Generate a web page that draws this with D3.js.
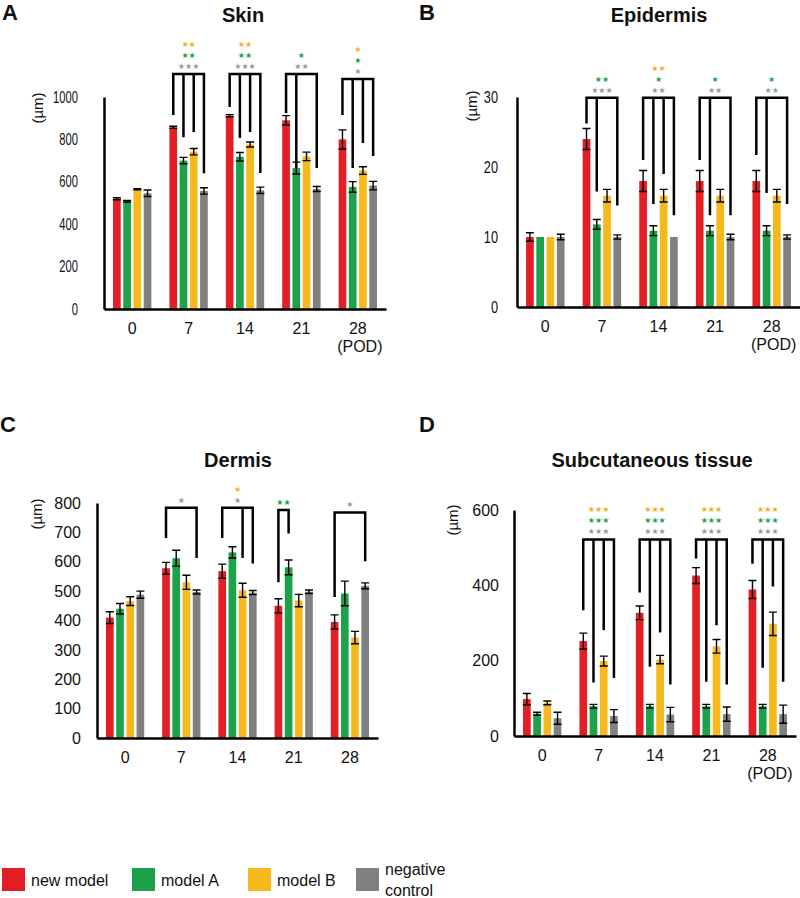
<!DOCTYPE html>
<html>
<head>
<meta charset="utf-8">
<script src="https://cdn.jsdelivr.net/npm/d3@7"></script>
<style>
  body { margin: 0; background: #fff; }
  text { font-family: "Liberation Sans", Arial, sans-serif; fill: #111; }
  .axis path { stroke: #000; stroke-width: 2.5; }
  .axis text { font-size: 16px; fill: #111; }
  .star { font-family: "DejaVu Sans", sans-serif; font-size: 8px; }
</style>
</head>
<body>
<script>
/////////////
/// DATA  ///
/////////////

var days = ["0", "7", "14", "21", "28"];
var series = ["new model", "model A", "model B", "negative control"];
var colors = ["#e41e25", "#1ba24a", "#f6b91c", "#808080"];
// star colours: model B, model A, negative control (all vs new model)
var starColors = ["#f2b01a", "#1ba24a", "#9a9a9a"];

// rows: new model, model A, model B, negative control
var skinMean = [
  [520, 857, 912, 890, 800],
  [508, 700, 718, 665, 576],
  [565, 742, 776, 720, 653],
  [546, 557, 560, 566, 582]
];
var skinErr = [
  [5, 5, 5, 22, 45],
  [4, 15, 20, 28, 25],
  [3, 15, 12, 20, 18],
  [15, 15, 15, 12, 20]
];

var epiMean = [
  [10, 24, 18, 18, 18],
  [10, 11.8, 10.9, 10.9, 10.9],
  [10, 15.9, 15.9, 15.9, 15.9],
  [10, 10, 10, 10, 10]
];
var epiErr = [
  [0.6, 1.5, 1.5, 1.5, 1.5],
  [0, 0.7, 0.7, 0.7, 0.7],
  [0, 0.9, 0.9, 0.9, 0.9],
  [0.4, 0.3, 0, 0.4, 0.3]
];

var dermMean = [
  [410, 578, 568, 450, 395],
  [440, 612, 632, 581, 492],
  [466, 530, 503, 468, 342],
  [488, 497, 495, 498, 518]
];
var dermErr = [
  [20, 20, 24, 24, 24],
  [18, 27, 19, 25, 42],
  [15, 24, 24, 21, 21],
  [12, 7, 7, 6, 10]
];

var subMean = [
  [98, 252, 327, 426, 389],
  [59, 79, 79, 79, 79],
  [88, 199, 203, 238, 298],
  [47, 53, 57, 58, 58]
];
var subErr = [
  [15, 21, 18, 21, 24],
  [4, 5, 5, 5, 5],
  [5, 13, 11, 18, 31],
  [16, 17, 19, 19, 24]
];

// significance brackets (values in µm)
// ends: where each drop line stops, per series (null = not compared)
// stars: [model B, model A, negative control]
var skinBrackets = [
  {day: "7",  top: 1108, ends: [915, 810, 835, 640], stars: ["**", "**", "***"]},
  {day: "14", top: 1108, ends: [953, 807, 835, 642], stars: ["**", "**", "***"]},
  {day: "21", top: 1108, ends: [925, 665, null, 665], stars: ["", "*", "**"]},
  {day: "28", top: 1085, ends: [915, 665, 783, 722], stars: ["*", "*", "*"]}
];
var epiBrackets = [
  {day: "7",  top: 29.9, ends: [26.2, 16.5, null, 14.5], stars: ["", "**", "***"]},
  {day: "14", top: 29.9, ends: [21, 14.7, 19, 13.1], stars: ["**", "*", "**"]},
  {day: "21", top: 29.9, ends: [21, 13.1, null, 13.1], stars: ["", "*", "**"]},
  {day: "28", top: 29.9, ends: [21.7, 16.3, null, 14.7], stars: ["", "*", "**"]}
];
var dermBrackets = [
  {day: "7",  top: 784, ends: [681, null, null, 613], stars: ["", "", "*"]},
  {day: "14", top: 784, ends: [681, null, 613, 594], stars: ["*", "", "*"]},
  {day: "21", top: 776, ends: [530, 696, null, null], stars: ["", "**", ""]},
  {day: "28", top: 768, ends: [480, null, null, 602], stars: ["", "", "*"]}
];
var subBrackets = [
  {day: "7",  top: 522, ends: [334, 142, 281, 154], stars: ["***", "***", "***"]},
  {day: "14", top: 522, ends: [381, 184, 275, 137], stars: ["***", "***", "***"]},
  {day: "21", top: 522, ends: [471, 144, 294, 137], stars: ["***", "***", "***"]},
  {day: "28", top: 522, ends: [457, 181, 397, 144], stars: ["***", "***", "***"]}
];

var skinTicks = [0, 200, 400, 600, 800, 1000];
var epiTicks = [0, 10, 20, 30];
var dermTicks = [0, 100, 200, 300, 400, 500, 600, 700, 800];
var subTicks = [0, 200, 400, 600];

//////////////
/// SETUP  ///
//////////////

var svg = d3.select("body").append("svg")
    .attr("width", 800)
    .attr("height", 898);

function drawPanel(p) {
  var g = svg.append("g");

  var x0 = d3.scaleBand().domain(days)
      .range([p.left, p.right])
      .paddingInner(0.32).paddingOuter(0.16);
  var x1 = d3.scaleBand().domain(d3.range(series.length))
      .range([0, x0.bandwidth()])
      .paddingInner(0.25);
  var y = d3.scaleLinear().domain([0, p.max]).range([p.bottom, p.top]);

  // panel letter + title
  g.append("text")
      .attr("x", p.letterX).attr("y", p.letterY)
      .style("font-size", "22px").style("font-weight", "bold")
      .text(p.letter);
  g.append("text")
      .attr("x", p.titleX).attr("y", p.titleY)
      .attr("text-anchor", "middle")
      .style("font-size", "20px").style("font-weight", "bold")
      .text(p.title);

  // bars
  var rows = [];
  series.forEach(function(s, i) {
    days.forEach(function(d, j) {
      rows.push({day: d, s: i, v: p.mean[i][j], e: p.err[i][j]});
    });
  });

  g.selectAll(".bar").data(rows).enter()
      .append("rect")
      .attr("class", "bar")
      .attr("x", function(d) { return x0(d.day) + x1(d.s); })
      .attr("y", function(d) { return y(d.v); })
      .attr("width", x1.bandwidth())
      .attr("height", function(d) { return y(0) - y(d.v); })
      .attr("fill", function(d) { return colors[d.s]; });

  // error bars
  g.selectAll(".err").data(rows.filter(function(d) { return d.e > 0; }))
      .enter().append("path")
      .attr("class", "err")
      .attr("fill", "none")
      .attr("stroke", "#000")
      .attr("stroke-width", 1.4)
      .attr("d", function(d) {
        var cx = x0(d.day) + x1(d.s) + x1.bandwidth() / 2;
        var y1 = y(d.v + d.e), y2 = y(d.v - d.e);
        return "M" + (cx - 4) + "," + y1 + "H" + (cx + 4) +
               "M" + cx + "," + y1 + "V" + y2 +
               "M" + (cx - 4) + "," + y2 + "H" + (cx + 4);
      });

  // axes
  var yAxis = g.append("g")
      .attr("class", "axis")
      .attr("transform", "translate(" + p.left + ",0)")
      .call(d3.axisLeft(y).tickValues(p.ticks).tickFormat(d3.format("d"))
        .tickSize(0).tickSizeOuter(0)
        .tickPadding(p.tickGap / p.tickScale));
  yAxis.selectAll("text").attr("transform", "scale(" + p.tickScale + ",1)");

  g.append("g")
      .attr("class", "axis")
      .attr("transform", "translate(0," + p.bottom + ")")
      .call(d3.axisBottom(x0).tickSize(0).tickSizeOuter(0).tickPadding(14));

  if (p.pod) {
    g.append("text")
        .attr("x", x0("28") + x0.bandwidth() / 2 + 2)
        .attr("y", p.bottom + 43)
        .attr("text-anchor", "middle")
        .style("font-size", "16px")
        .text("(POD)");
  }

  // y label
  g.append("text")
      .attr("transform", "translate(" + p.labelX + "," + p.labelY + ") rotate(-90)")
      .attr("text-anchor", "middle")
      .attr("dy", "0.35em")
      .style("font-size", "15px")
      .text("(\u00b5m)");

  // significance brackets
  p.brackets.forEach(function(b) {
    var drops = [];
    b.ends.forEach(function(e, i) {
      if (e !== null) {
        drops.push({x: x0(b.day) + x1(i) + x1.bandwidth() / 2, y: y(e)});
      }
    });
    var first = drops[0], last = drops[drops.length - 1];
    var topY = y(b.top);

    g.append("path")
        .attr("fill", "none")
        .attr("stroke", "#000")
        .attr("stroke-width", 2.5)
        .attr("d", "M" + first.x + "," + first.y + "V" + topY +
                   "H" + last.x + "V" + last.y);
    drops.slice(1, -1).forEach(function(d) {
      g.append("line")
          .attr("x1", d.x).attr("x2", d.x)
          .attr("y1", topY).attr("y2", d.y)
          .attr("stroke", "#000")
          .attr("stroke-width", 2.5);
    });

    // stars stack up from the bracket: neg control, model A, model B
    var midX = (first.x + last.x) / 2;
    var k = 0;
    [2, 1, 0].forEach(function(c) {
      var s = b.stars[c];
      if (!s) return;
      g.append("text")
          .attr("class", "star")
          .attr("x", midX)
          .attr("y", topY - 8 - 11 * k)
          .attr("dy", "0.35em")
          .attr("text-anchor", "middle")
          .style("fill", starColors[c])
          .text(s.replace(/\*/g, "\u2605"));
      k++;
    });
  });
}

drawPanel({letter: "A", letterX: 2, letterY: 20, title: "Skin", titleX: 243, titleY: 22,
  left: 104, right: 386, top: 97, bottom: 309, max: 1000, ticks: skinTicks,
  mean: skinMean, err: skinErr, brackets: skinBrackets, pod: true,
  labelX: 38, labelY: 108, tickGap: 26, tickScale: 0.7});

drawPanel({letter: "B", letterX: 419, letterY: 20, title: "Epidermis", titleX: 659, titleY: 22,
  left: 517, right: 800, top: 97, bottom: 307, max: 30, ticks: epiTicks,
  mean: epiMean, err: epiErr, brackets: epiBrackets, pod: true,
  labelX: 472, labelY: 106, tickGap: 19, tickScale: 0.8});

drawPanel({letter: "C", letterX: 0, letterY: 432, title: "Dermis", titleX: 238, titleY: 467,
  left: 97, right: 378, top: 503, bottom: 738, max: 800, ticks: dermTicks,
  mean: dermMean, err: dermErr, brackets: dermBrackets, pod: false,
  labelX: 37, labelY: 514, tickGap: 16, tickScale: 1});

drawPanel({letter: "D", letterX: 419, letterY: 432, title: "Subcutaneous tissue", titleX: 652, titleY: 467,
  left: 514, right: 796, top: 510, bottom: 736, max: 600, ticks: subTicks,
  mean: subMean, err: subErr, brackets: subBrackets, pod: true,
  labelX: 453, labelY: 520, tickGap: 15, tickScale: 1});

////////////////
/// LEGEND   ///
////////////////

var legendX = [2, 132, 248, 356];
var legend = svg.append("g").attr("transform", "translate(0,868)");

series.forEach(function(s, i) {
  legend.append("rect")
      .attr("x", legendX[i]).attr("y", 0)
      .attr("width", 23).attr("height", 23)
      .attr("fill", colors[i]);

  var words = s === "negative control" ? ["negative", "control"] : [s];
  words.forEach(function(w, j) {
    legend.append("text")
        .attr("x", legendX[i] + 29)
        .attr("y", words.length > 1 ? 7 + j * 21 : 18)
        .style("font-size", "16px")
        .text(w);
  });
});
</script>
</body>
</html>
